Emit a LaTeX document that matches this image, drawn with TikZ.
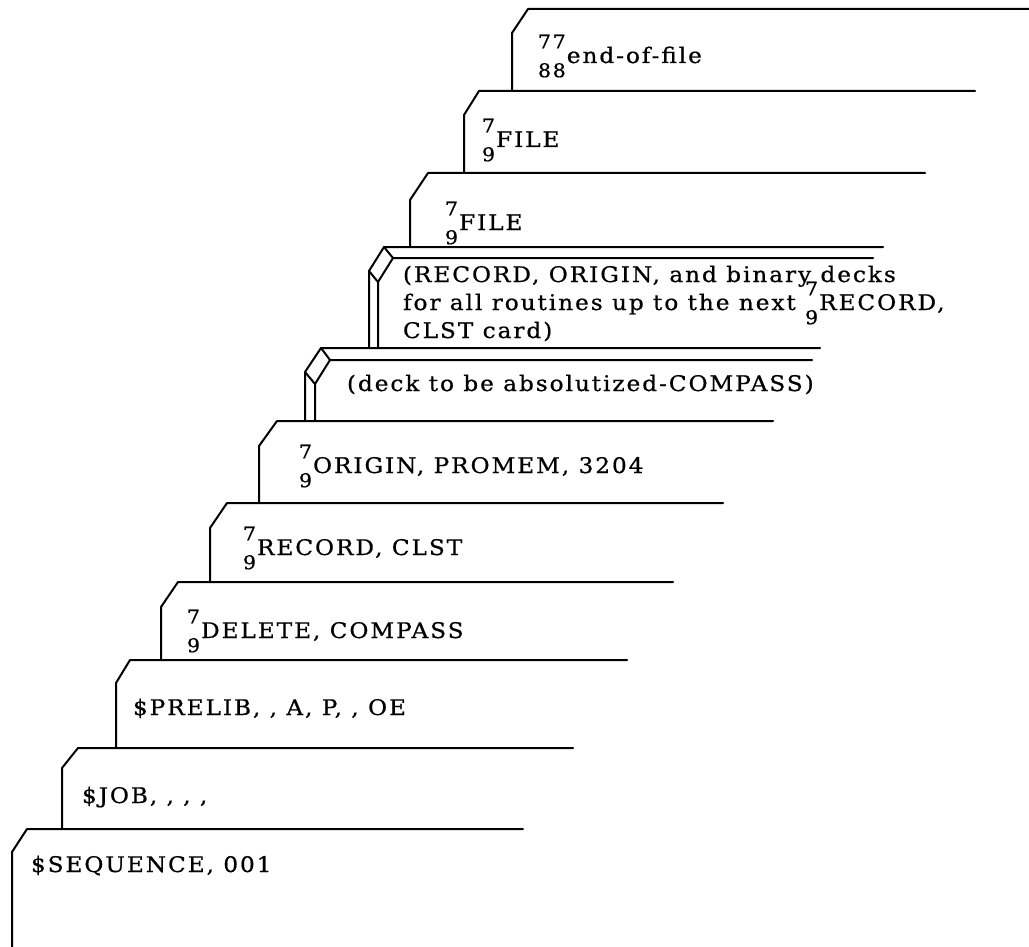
\documentclass[tikz,border=0pt]{standalone}
\usepackage{fontspec}
\setmainfont{DejaVu Serif}[LetterSpace=9, FakeStretch=1.08, FakeBold=0.7]
\newcommand\stk[2]{\makebox[0pt][l]{\raisebox{0.68em}{\fontsize{19}{19}\selectfont #1}}\raisebox{-0.66em}{\fontsize{19}{19}\selectfont #2}\hspace{1pt}}
\tikzset{
  card/.style={line width=2pt, line join=round, line cap=round},
  txt/.style={anchor=base west, inner sep=0pt, outer sep=0pt, font=\fontsize{21.5}{28}\selectfont}
}
\begin{document}
\begin{tikzpicture}[x=1pt,y=-1pt]
\useasboundingbox (0,0) rectangle (1029,947);
% cards: top line right end -> top-left corner -> cut corner -> vertical edge down to next card
\draw[card] (1029,9) -- (528,9) -- (512,33) -- (512,91);
\draw[card] (975,91) -- (479,91) -- (464,115) -- (464,173);
\draw[card] (925,173) -- (428,173) -- (410,200) -- (410,247);
% deck D (double outline)
\draw[card] (883,247) -- (384,247) -- (369,271) -- (369,348);
\draw[card] (873,258) -- (393,258) -- (378,282) -- (378,348);
\draw[card] (384,247) -- (393,258);
\draw[card] (369,271) -- (378,282);
% deck E (double outline)
\draw[card] (820,348) -- (321,348) -- (305,372) -- (305,421);
\draw[card] (812,360) -- (330,360) -- (315,384) -- (315,421);
\draw[card] (321,348) -- (330,360);
\draw[card] (305,372) -- (315,384);
\draw[card] (773,421) -- (277,421) -- (259,446) -- (259,503);
\draw[card] (723,503) -- (227,503) -- (210,528) -- (210,582);
\draw[card] (673,582) -- (178,582) -- (161,607) -- (161,660);
\draw[card] (627,660) -- (130,660) -- (116,683) -- (116,748);
\draw[card] (573,748) -- (78,748) -- (62,768) -- (62,829);
\draw[card] (523,829) -- (27,829) -- (12,852) -- (12,947);
% texts
\node[txt] (ta) at (538,63) {\stk{77}{88}end-of-file};
\node[txt] (tb) at (482,147) {\stk{7}{9}FILE};
\node[txt] (tc) at (445,230) {\stk{7}{9}FILE};
\node[txt] (td1) at (403,282) {(RECORD, ORIGIN, and binary decks};
\node[txt] (td2) at (403,310) {for all routines up to the next \stk{7}{9}RECORD,};
\node[txt] (td3) at (403,338) {CLST card)};
\node[txt] (te) at (347,391) {(deck to be absolutized-COMPASS)};
\node[txt] (tf) at (299,473) {\stk{7}{9}ORIGIN, PROMEM, 3204};
\node[txt] (tg) at (243,555) {\stk{7}{9}RECORD, CLST};
\node[txt] (th) at (187,638) {\stk{7}{9}DELETE, COMPASS};
\node[txt] (ti) at (133,715) {\$PRELIB, , A, P, , OE};
\node[txt] (tj) at (82,803) {\$JOB, , , ,};
\node[txt] (tk) at (31,872) {\$SEQUENCE, 001};
\end{tikzpicture}
\end{document}
